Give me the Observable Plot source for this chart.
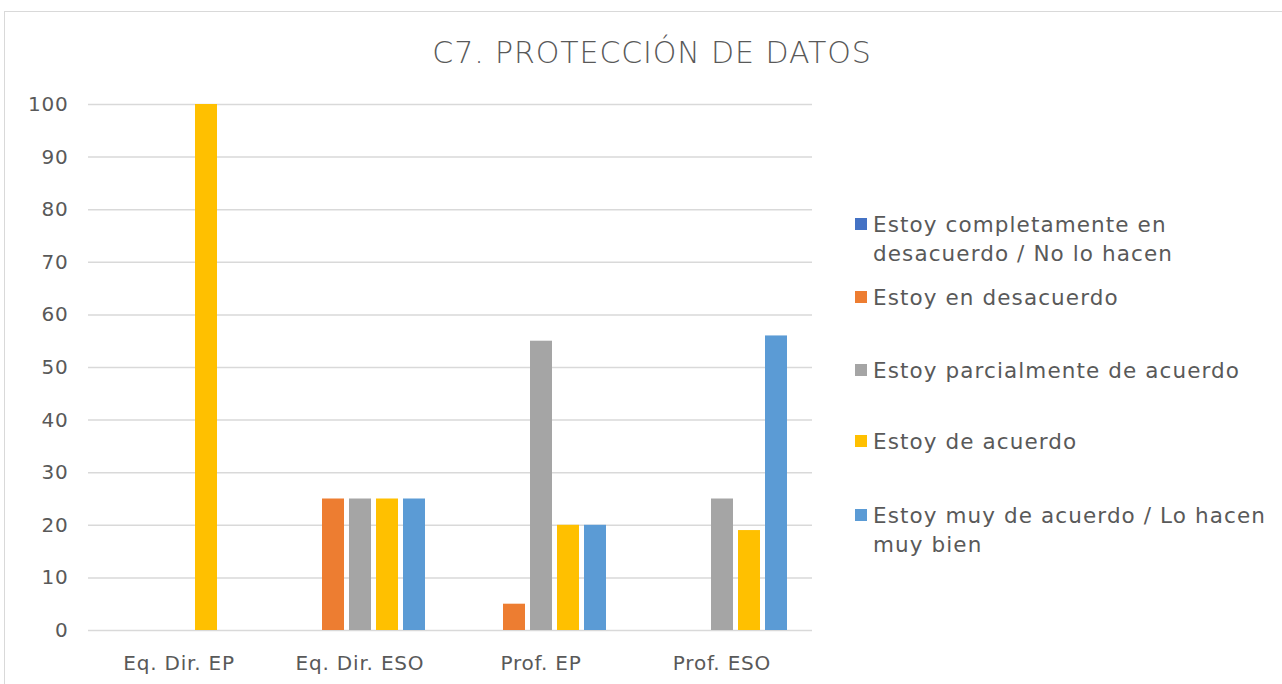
<!DOCTYPE html>
<html>
<head>
<meta charset="utf-8">
<script src="https://cdn.jsdelivr.net/npm/d3@7"></script>
<script src="https://cdn.jsdelivr.net/npm/@observablehq/plot@0.6"></script>
<style>
  html, body { margin: 0; padding: 0; background: #fff; overflow: hidden; }
  body { width: 1282px; height: 684px; position: relative; font-family: "DejaVu Sans", sans-serif; color: #595959; }
  #frame { position: absolute; left: 4px; top: 11px; width: 1300px; height: 700px; border: 1px solid #d9d9d9; box-sizing: border-box; }
  #title { position: absolute; left: 0; width: 1304px; top: 33px; text-align: center; font-size: 30px; font-weight: 300; letter-spacing: 0.9px; line-height: 40px; }
  #chart { position: absolute; left: 0; top: 0; }
  #chart svg text { letter-spacing: 0.8px; }
  .item { position: absolute; left: 873px; font-size: 21.5px; letter-spacing: 1.1px; line-height: 29px; white-space: nowrap; }
  .sw { position: absolute; left: -18px; top: 8.5px; width: 12px; height: 12px; }
</style>
</head>
<body>
<div id="frame"></div>
<div id="title">C7. PROTECCIÓN DE DATOS</div>
<div id="chart"></div>
<div id="legend"></div>
<script>
const groups = ["Eq. Dir. EP", "Eq. Dir. ESO", "Prof. EP", "Prof. ESO"];
const series = [
  "Estoy completamente en desacuerdo / No lo hacen",
  "Estoy en desacuerdo",
  "Estoy parcialmente de acuerdo",
  "Estoy de acuerdo",
  "Estoy muy de acuerdo / Lo hacen muy bien"
];
const legendLines = [
  ["Estoy completamente en", "desacuerdo / No lo hacen"],
  ["Estoy en desacuerdo"],
  ["Estoy parcialmente de acuerdo"],
  ["Estoy de acuerdo"],
  ["Estoy muy de acuerdo / Lo hacen", "muy bien"]
];
const colors = ["#4472C4", "#ED7D31", "#A5A5A5", "#FFC000", "#5B9BD5"];
const completamenteDesacuerdo = [0, 0, 0, 0];
const desacuerdo = [0, 25, 5, 0];
const parcialmente = [0, 25, 55, 25];
const deAcuerdo = [100, 25, 20, 19];
const muyDeAcuerdo = [0, 25, 20, 56];
const yTicks = [0, 10, 20, 30, 40, 50, 60, 70, 80, 90, 100];

const seriesValues = [completamenteDesacuerdo, desacuerdo, parcialmente, deAcuerdo, muyDeAcuerdo];
const data = [];
series.forEach((s, i) => groups.forEach((g, j) => data.push({group: g, series: s, value: seriesValues[i][j]})));

const chart = Plot.plot({
  width: 830,
  height: 684,
  marginTop: 104,
  marginBottom: 54,
  marginLeft: 88,
  marginRight: 18,
  style: {fontFamily: "DejaVu Sans, sans-serif", fontSize: "20px", color: "#595959", background: "transparent"},
  fx: {domain: groups, padding: 0, label: null},
  x: {domain: series, paddingInner: 0.19, paddingOuter: 0.92, axis: null},
  y: {domain: [0, 100], label: null},
  color: {domain: series, range: colors},
  marks: [
    Plot.ruleY(yTicks, {stroke: "#d9d9d9", strokeWidth: 1.5}),
    Plot.barY(data, {fx: "group", x: "series", y: "value", fill: "series"}),
    Plot.axisY({ticks: yTicks, tickSize: 0, tickPadding: 20, label: null}),
    Plot.axisFx({anchor: "bottom", tickSize: 0, tickPadding: 25, label: null})
  ]
});
document.getElementById("chart").appendChild(chart);

const tops = [209.5, 282.5, 355.5, 426.5, 500.5];
const legend = document.getElementById("legend");
legendLines.forEach((lines, i) => {
  const div = document.createElement("div");
  div.className = "item";
  div.style.top = tops[i] + "px";
  const sw = document.createElement("span");
  sw.className = "sw";
  sw.style.background = colors[i];
  div.appendChild(sw);
  lines.forEach((l, k) => {
    if (k > 0) div.appendChild(document.createElement("br"));
    div.appendChild(document.createTextNode(l));
  });
  legend.appendChild(div);
});
</script>
</body>
</html>
